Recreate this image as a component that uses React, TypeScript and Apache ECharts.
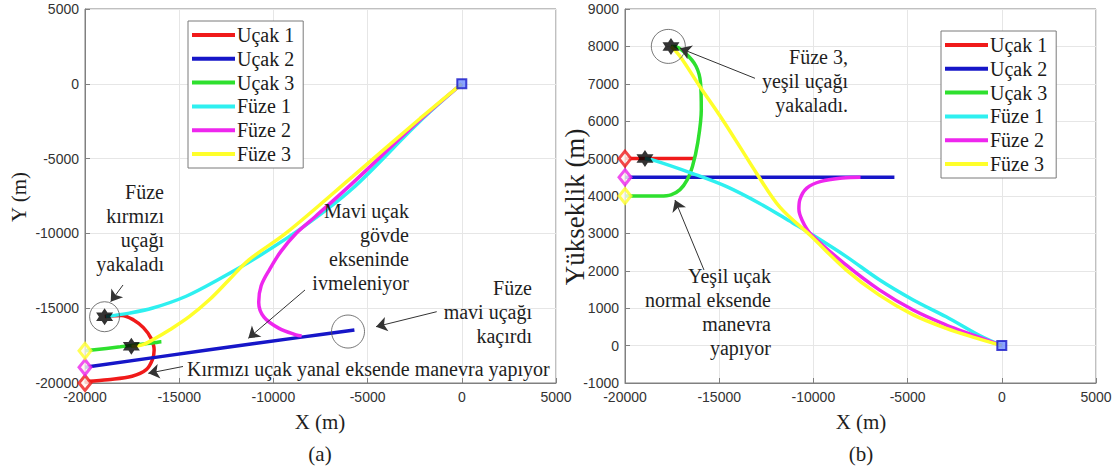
import React, { useEffect, useRef } from "react";
import * as echarts from "echarts";

const seriesNames = ["Uçak 1", "Uçak 2", "Uçak 3", "Füze 1", "Füze 2", "Füze 3"];
const seriesColors = ["#f01a1a", "#1616c8", "#2ee02e", "#2ef0f0", "#ee26ee", "#ffff2a"];

const xTickMin = -20000;
const xTickMax = 5000;
const xTickStep = 5000;
const yLeftMin = -20000;
const yLeftMax = 5000;
const yLeftStep = 5000;
const zRightMin = -1000;
const zRightMax = 9000;
const zRightStep = 1000;

// (a) X-Y plane
const ucak1X = [-20000, -19750, -18800, -17500, -16750, -16420, -16330, -16500, -16900, -17400, -18050, -18950];
const ucak1Y = [-20000, -19890, -19780, -19550, -19110, -18440, -17800, -17000, -16300, -15800, -15480, -15550];
const ucak2X = [-20000, -13400, -8600, -5700];
const ucak2Y = [-18950, -17780, -16950, -16450];
const ucak3X = [-20000, -18130, -17560, -17080, -16700, -16420, -16140, -15950, -15990, -16230, -16800, -17370, -17560];
const ucak3Y = [-17850, -17580, -17490, -17420, -17360, -17320, -17280, -17250, -17250, -17290, -17380, -17470, -17550];
const fuze1X = [0, -2300, -5800, -8450, -11000, -12870, -14630, -16400, -17640, -18900];
const fuze1Y = [0, -2600, -7000, -9600, -11700, -13050, -14200, -14990, -15330, -15550];
const fuze2X = [0, -2300, -5800, -7800, -8800, -9600, -10200, -10650, -10780, -10500, -9700, -8800, -8500];
const fuze2Y = [0, -2500, -6640, -8900, -10000, -11200, -12400, -13500, -14600, -15600, -16350, -16780, -16850];
const fuze3X = [0, -2200, -5800, -9300, -11300, -12350, -13400, -14450, -15500, -16400, -16950, -17530];
const fuze3Y = [0, -2300, -6200, -9950, -11770, -13100, -14440, -15550, -16440, -17110, -17450, -17550];

// (b) X-altitude plane
const ucak1Alt = [5000, 5000, 5000, 5000, 5000, 5000, 5000, 5000, 5000, 5000, 5000, 5000];
const ucak2Alt = [4500, 4500, 4500, 4500];
const ucak3Alt = [4000, 4000, 4030, 4170, 4430, 4790, 5420, 6310, 7020, 7470, 7820, 8000, 8000];
const fuze1XR = [0, -1150, -2950, -4700, -6500, -8250, -10170, -11100, -12850, -14600, -16400, -18500, -18950];
const fuze1Alt = [0, 260, 770, 1220, 1760, 2380, 3000, 3280, 3800, 4250, 4600, 4960, 5000];
const fuze2XR = [0, -1520, -2950, -4700, -6500, -8250, -10170, -10600, -10770, -10720, -10350, -9600, -8450, -7500];
const fuze2Alt = [0, 280, 550, 950, 1490, 2150, 3000, 3350, 3650, 3900, 4210, 4390, 4480, 4500];
const fuze3XR = [0, -1350, -2950, -4700, -6500, -8250, -10170, -11780, -13020, -13910, -14970, -16030, -17100, -17560];
const fuze3Alt = [0, 200, 460, 820, 1350, 2020, 2950, 3700, 4610, 5320, 6150, 6930, 7750, 8000];

// markers
const startsLeft = [[-20000, -20000], [-20000, -18950], [-20000, -17850]];
const startsRight = [[-20000, 5000], [-20000, 4500], [-20000, 4000]];
const startColors = ["#f01a1a", "#ee26ee", "#ffff2a"];
const launchPoint = [[0, 0]];
const hitsLeft = [[-18960, -15570], [-17540, -17550]];
const hitsRight = [[-18940, 5000], [-17560, 8000]];
const circlesLeft = [[-18960, -15570, 30], [-6040, -16560, 33]];
const circlesRight = [[-17700, 8000, 34]];

// annotation arrows [x1, y1, x2, y2]
const arrowsLeft = [
  [-17983, -13449, -18636, -14566],
  [-8323, -13783, -11332, -17012],
  [-1332, -15234, -4554, -16237],
  [-14798, -18897, -16640, -19352],
];
const arrowsRight = [
  [-13100, 7147, -17081, 7949],
  [-15807, 2021, -17346, 3893],
];

const serif = "Liberation Serif";
const sans = "Liberation Sans";

const zip = (xs: number[], ys: number[]) => xs.map((x, i) => [x, ys[i]]);

const hexagram =
  "path://M0,-10 L2.887,-5 L8.66,-5 L5.774,0 L8.66,5 L2.887,5 L0,10 L-2.887,5 L-8.66,5 L-5.774,0 L-8.66,-5 L-2.887,-5 Z";

export default function App() {
  const ref = useRef<HTMLDivElement>(null);

  useEffect(() => {
    if (!ref.current) return;
    const chart = echarts.init(ref.current, undefined, { renderer: "svg" });

    const leftData = [zip(ucak1X, ucak1Y), zip(ucak2X, ucak2Y), zip(ucak3X, ucak3Y), zip(fuze1X, fuze1Y), zip(fuze2X, fuze2Y), zip(fuze3X, fuze3Y)];
    const rightData = [zip(ucak1X, ucak1Alt), zip(ucak2X, ucak2Alt), zip(ucak3X, ucak3Alt), zip(fuze1XR, fuze1Alt), zip(fuze2XR, fuze2Alt), zip(fuze3XR, fuze3Alt)];

    const lineSeries: any[] = [];
    [leftData, rightData].forEach((set, gi) => {
      set.forEach((d, i) => {
        lineSeries.push({
          type: "line",
          name: seriesNames[i],
          xAxisIndex: gi,
          yAxisIndex: gi,
          data: d,
          symbol: "none",
          showSymbol: false,
          smooth: 0.35,
          lineStyle: { width: 3.5, color: seriesColors[i] },
          itemStyle: { color: seriesColors[i] },
          z: 2,
        });
      });
    });

    const markerSeries = (gi: number, starts: number[][], hits: number[][], circles: number[][]) => [
      {
        type: "scatter",
        xAxisIndex: gi,
        yAxisIndex: gi,
        symbol: "circle",
        data: circles.map((c) => ({ value: [c[0], c[1]], symbolSize: c[2] })),
        itemStyle: { color: "rgba(0,0,0,0)", borderColor: "#555", borderWidth: 1 },
        silent: true,
        z: 3,
      },
      {
        type: "scatter",
        xAxisIndex: gi,
        yAxisIndex: gi,
        symbol: "diamond",
        symbolSize: [12, 15],
        data: starts.map((s, i) => ({
          value: s,
          itemStyle: { color: "#fff8f0", borderColor: startColors[i], borderWidth: 3 },
        })),
        silent: true,
        z: 4,
      },
      {
        type: "scatter",
        xAxisIndex: gi,
        yAxisIndex: gi,
        symbol: "rect",
        symbolSize: 9,
        data: launchPoint,
        itemStyle: { color: "#6f8fff", borderColor: "#1616c8", borderWidth: 2 },
        silent: true,
        z: 4,
      },
      {
        type: "scatter",
        xAxisIndex: gi,
        yAxisIndex: gi,
        symbol: hexagram,
        symbolSize: 17,
        data: hits,
        itemStyle: { color: "#000" },
        silent: true,
        z: 5,
      },
    ];

    const arrowSeries = (gi: number, arrows: number[][]) => ({
      type: "lines",
      coordinateSystem: "cartesian2d",
      xAxisIndex: gi,
      yAxisIndex: gi,
      symbol: ["none", "arrow"],
      symbolSize: [0, 11],
      lineStyle: { color: "#333", width: 1, opacity: 1, curveness: 0 },
      data: arrows.map((a) => ({ coords: [[a[0], a[1]], [a[2], a[3]]] })),
      silent: true,
      z: 6,
    });

    const xAxisBase = (gi: number) => ({
      gridIndex: gi,
      type: "value",
      min: xTickMin,
      max: xTickMax,
      interval: xTickStep,
      axisLine: { show: true, onZero: false, lineStyle: { color: "#808080" } },
      axisTick: { show: true, inside: true, length: 5, lineStyle: { color: "#808080" } },
      axisLabel: {
        fontFamily: sans,
        fontSize: 14,
        color: "#333",
        margin: 7,
        showMinLabel: true,
        showMaxLabel: true,
        formatter: (v: number) => String(v),
      },
      splitLine: { show: true, lineStyle: { color: "#e6e6e6", width: 1 } },
    });

    const yAxisBase = (gi: number, min: number, max: number, step: number) => ({
      gridIndex: gi,
      type: "value",
      min,
      max,
      interval: step,
      axisLine: { show: true, onZero: false, lineStyle: { color: "#808080" } },
      axisTick: { show: true, inside: true, length: 5, lineStyle: { color: "#808080" } },
      axisLabel: {
        fontFamily: sans,
        fontSize: 14,
        color: "#333",
        margin: 6,
        showMinLabel: true,
        showMaxLabel: true,
        formatter: (v: number) => String(v),
      },
      splitLine: { show: true, lineStyle: { color: "#e6e6e6", width: 1 } },
    });

    const legendBase = (left: number, top: number) => ({
      data: seriesNames,
      orient: "vertical",
      left,
      top,
      icon: "rect",
      itemWidth: 43,
      itemHeight: 4,
      itemGap: 3.8,
      selectedMode: false,
      backgroundColor: "#fff",
      borderColor: "#7a7a7a",
      borderWidth: 1,
      padding: [4, 9, 4, 4],
      textStyle: { fontFamily: serif, fontSize: 20, color: "#1a1a1a", lineHeight: 20, padding: [0, 0, 0, -3] },
    });

    const txt = (text: string, x: number, y: number, align: string, vAlign: string, size: number, rotation = 0) => ({
      type: "text",
      x,
      y,
      rotation,
      silent: true,
      z: 10,
      style: {
        text,
        fontFamily: serif,
        fontSize: size,
        fill: "#1e1e1e",
        align,
        textAlign: align,
        verticalAlign: vAlign,
        textVerticalAlign: vAlign,
        lineHeight: 24,
      },
    });

    chart.setOption({
      animation: false,
      backgroundColor: "#fff",
      grid: [
        { left: 85, top: 9, width: 471, height: 374, show: true, borderColor: "#808080", borderWidth: 1, backgroundColor: "#fff" },
        { left: 625, top: 9, width: 471, height: 374, show: true, borderColor: "#808080", borderWidth: 1, backgroundColor: "#fff" },
      ],
      xAxis: [xAxisBase(0), xAxisBase(1)],
      yAxis: [yAxisBase(0, yLeftMin, yLeftMax, yLeftStep), yAxisBase(1, zRightMin, zRightMax, zRightStep)],
      legend: [legendBase(188, 21), legendBase(941, 31)],
      series: [
        ...lineSeries,
        ...markerSeries(0, startsLeft, hitsLeft, circlesLeft),
        ...markerSeries(1, startsRight, hitsRight, circlesRight),
        arrowSeries(0, arrowsLeft),
        arrowSeries(1, arrowsRight),
      ],
      graphic: [
        txt("Füze\nkırmızı\nuçağı\nyakaladı", 164, 180, "right", "top", 20),
        txt("Mavi uçak\ngövde\nekseninde\nivmeleniyor", 409, 199, "right", "top", 20),
        txt("Füze\nmavi uçağı\nkaçırdı", 532, 276, "right", "top", 20),
        txt("Kırmızı uçak yanal eksende manevra yapıyor", 187, 369, "left", "middle", 20),
        txt("Füze 3,\nyeşil uçağı\nyakaladı.", 848, 45, "right", "top", 20),
        txt("Yeşil uçak\nnormal eksende\nmanevra\nyapıyor", 771, 264, "right", "top", 20),
        txt("Y (m)", 19, 197, "center", "middle", 21, Math.PI / 2),
        txt("Yükseklik (m)", 575, 207, "center", "middle", 27, Math.PI / 2),
        txt("X (m)", 320, 422, "center", "middle", 21),
        txt("X (m)", 861, 422, "center", "middle", 21),
        txt("(a)", 320, 454, "center", "middle", 21),
        txt("(b)", 861, 454, "center", "middle", 21),
      ],
    });

    return () => chart.dispose();
  }, []);

  return (
    <div
      ref={ref}
      style={{ position: "absolute", left: 0, top: 0, width: 1120, height: 472, background: "#fff" }}
    />
  );
}
